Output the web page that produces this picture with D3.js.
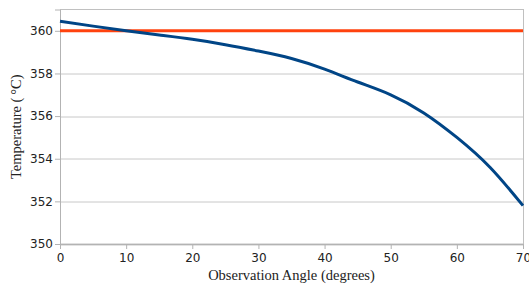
<!DOCTYPE html>
<html>
<head>
<meta charset="utf-8">
<script src="https://cdn.jsdelivr.net/npm/d3@7"></script>
<style>
  body { margin: 0; background: #fff; }
  .tick text { font-family: "DejaVu Sans", sans-serif; font-size: 12px; fill: #222; }
  .title { font-family: "Liberation Serif", "DejaVu Serif", serif; font-size: 14.5px; fill: #222; }
</style>
</head>
<body>
<div id="chart"></div>
<script>
// ---------------------------------------------------------------- Data
var angles       = [0, 5, 10, 15, 20, 25, 30, 35, 40, 45, 50, 55, 60, 65, 70];
var temperature  = [360.45, 360.22, 360.0, 359.8, 359.6, 359.35, 359.05, 358.7,
                    358.2, 357.6, 357.0, 356.15, 355.0, 353.6, 351.8];
var reference    = [360, 360];
var referenceX   = [0, 70];
var xTicks       = [0, 10, 20, 30, 40, 50, 60, 70];
var yTicks       = [350, 352, 354, 356, 358, 360];
// ---------------------------------------------------------------- /Data

var width = 529, height = 285;
var margin = {top: 9.5, right: 6, bottom: 41, left: 60};
var w = width - margin.left - margin.right,
    h = height - margin.top - margin.bottom;

var x = d3.scaleLinear().domain([0, 70]).range([0, w]);
var y = d3.scaleLinear().domain([350, 361]).range([h, 0]);

var svg = d3.select('#chart').append('svg')
    .attr('width', width)
    .attr('height', height)
  .append('g')
    .attr('transform', 'translate(' + margin.left + ',' + margin.top + ')');

// grid lines
svg.append('g')
    .selectAll('line')
    .data(yTicks)
  .enter().append('line')
    .attr('x1', 0).attr('x2', w)
    .attr('y1', function(d) { return Math.round(y(d)) + 0.5; })
    .attr('y2', function(d) { return Math.round(y(d)) + 0.5; })
    .attr('stroke', '#c8c8c8');

// frame
svg.append('rect')
    .attr('x', 0.5).attr('y', 0)
    .attr('width', w).attr('height', h)
    .attr('fill', 'none')
    .attr('stroke', '#c0c0c0');

var xAxis = svg.append('g')
    .attr('transform', 'translate(0,' + h + ')')
    .call(d3.axisBottom(x).tickValues(xTicks).tickSize(5).tickPadding(4));
xAxis.select('.domain').attr('stroke', '#b3b3b3');
xAxis.selectAll('.tick line').attr('stroke', '#b3b3b3');

var yAxis = svg.append('g')
    .call(d3.axisLeft(y).tickValues(yTicks).tickSize(5).tickPadding(2));
yAxis.select('.domain').attr('stroke', '#b3b3b3');
yAxis.selectAll('.tick line').attr('stroke', '#b3b3b3');

// reference line
var refLine = d3.line()
    .x(function(d, i) { return x(referenceX[i]); })
    .y(function(d) { return y(d); });

svg.append('path')
    .datum(reference)
    .attr('d', refLine)
    .attr('fill', 'none')
    .attr('stroke', '#ff420e')
    .attr('stroke-width', 3);

// measured curve
var line = d3.line()
    .curve(d3.curveNatural)
    .x(function(d, i) { return x(angles[i]); })
    .y(function(d) { return y(d); });

svg.append('path')
    .datum(temperature)
    .attr('d', line)
    .attr('fill', 'none')
    .attr('stroke', '#004586')
    .attr('stroke-width', 3);

// axis titles
svg.append('text')
    .attr('class', 'title')
    .attr('x', w / 2)
    .attr('y', h + 36)
    .attr('text-anchor', 'middle')
    .text('Observation Angle (degrees)');

svg.append('text')
    .attr('class', 'title')
    .attr('transform', 'translate(' + (-39) + ',' + (h / 2) + ') rotate(-90)')
    .attr('text-anchor', 'middle')
    .text('Temperature (\u2009°C)');
</script>
</body>
</html>
